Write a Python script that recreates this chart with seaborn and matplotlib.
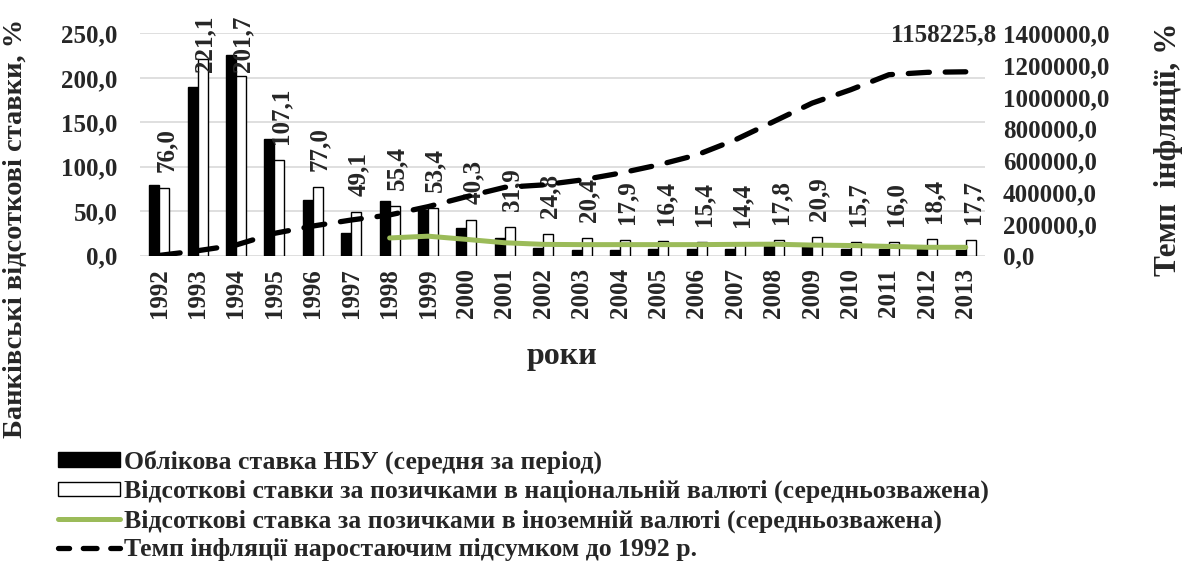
import numpy as np
import pandas as pd
import matplotlib
matplotlib.use("Agg")
import matplotlib.pyplot as plt
from matplotlib.patches import Patch
from matplotlib.lines import Line2D
from matplotlib.ticker import FuncFormatter, MultipleLocator
import seaborn as sns

# --- Data ---
years = ["1992", "1993", "1994", "1995", "1996", "1997", "1998", "1999", "2000", "2001", "2002",
         "2003", "2004", "2005", "2006", "2007", "2008", "2009", "2010", "2011", "2012", "2013"]
nbu_rate = [80.0, 190.0, 226.0, 131.0, 62.5, 26.0, 62.0, 51.0, 31.0, 19.5, 8.5,
            7.0, 7.0, 8.0, 8.0, 8.0, 11.0, 10.5, 7.75, 7.75, 7.5, 6.5]
loan_rate_uah = [76.0, 221.1, 201.7, 107.1, 77.0, 49.1, 55.4, 53.4, 40.3, 31.9, 24.8,
                 20.4, 17.9, 16.4, 15.4, 14.4, 17.8, 20.9, 15.7, 16.0, 18.4, 17.7]
loan_rate_fx = [np.nan] * 6 + [20.0, 22.0, 18.4, 14.6, 12.8,
                               12.5, 12.5, 12.5, 12.5, 12.8, 13.0, 12.0, 11.5, 10.5, 9.5, 9.5]
inflation_cum = [2000, 31500, 67500, 141000, 187000, 225000, 257000, 309000, 372000, 431000, 446000,
                 477000, 520000, 572000, 635000, 730000, 845000, 961000, 1045000, 1140000, 1155000,
                 1158225.8]

lbl_nbu = "Облікова ставка НБУ (середня за період)"
lbl_uah = "Відсоткові ставки за позичками в національній валюті (середньозважена)"
lbl_fx = "Відсоткові ставка за позичками в іноземній валюті (середньозважена)"
lbl_inf = "Темп інфляції наростаючим підсумком до 1992 р."

GREEN = "#9BBB59"
GRID = "#D9D9D9"
FS = 18


def comma(v, pos=None):
    return f"{v:.1f}".replace(".", ",")


sns.set_theme(style="white")
plt.rcParams["font.family"] = ["Liberation Serif", "DejaVu Serif"]
plt.rcParams["font.weight"] = "bold"

fig = plt.figure(figsize=(11.86, 5.76), dpi=100)
ax = fig.add_axes([0.118, 0.556, 0.7125, 0.386])

bars = pd.DataFrame({
    "year": years * 2,
    "value": nbu_rate + loan_rate_uah,
    "series": [lbl_nbu] * len(years) + [lbl_uah] * len(years),
})
sns.barplot(data=bars, x="year", y="value", hue="series", order=years,
            palette={lbl_nbu: "black", lbl_uah: "white"}, edgecolor="black",
            linewidth=1.0, width=0.52, gap=0, legend=False, ax=ax, zorder=2)

xpos = np.arange(len(years))
ax.plot(xpos, loan_rate_fx, color=GREEN, lw=3.6, solid_capstyle="round", zorder=4)

ax.set_xlim(-0.5, len(years) - 0.5)
ax.set_ylim(0, 250)
ax.yaxis.set_major_locator(MultipleLocator(50))
ax.yaxis.set_major_formatter(FuncFormatter(comma))
ax.grid(axis="y", color=GRID, lw=1.2, zorder=0)
ax.set_axisbelow(True)
for s in ax.spines.values():
    s.set_visible(False)
ax.tick_params(axis="y", labelsize=FS, pad=16, length=0)
ax.tick_params(axis="x", labelsize=FS, pad=9, length=0, labelrotation=90)
ax.set_xlabel("роки", fontsize=23, fontweight="bold", labelpad=17)
ax.set_ylabel("")

# data labels above national-currency bars (kept inside the top of the chart)
for patch, v in zip(ax.containers[1], loan_rate_uah):
    x = patch.get_x() + patch.get_width() / 2
    ax.text(x + 0.05, min(v + 18, 207), comma(v), rotation=90, ha="center", va="bottom",
            fontsize=FS, fontweight="bold", clip_on=False, zorder=5)

ax2 = ax.twinx()
ax2.plot(xpos, inflation_cum, color="black", lw=3.8, linestyle=(0, (4.0, 3.0)),
         dash_capstyle="round", zorder=3)
ax2.set_ylim(0, 1400000)
ax2.yaxis.set_major_locator(MultipleLocator(200000))
ax2.yaxis.set_major_formatter(FuncFormatter(comma))
ax2.tick_params(axis="y", labelsize=FS, pad=13, length=0)
ax2.grid(False)
for s in ax2.spines.values():
    s.set_visible(False)
ax2.annotate(comma(inflation_cum[-1]), (xpos[-1], inflation_cum[-1]), xytext=(-16, 18),
             textcoords="offset points", ha="center", va="bottom", fontsize=FS,
             fontweight="bold", annotation_clip=False)

fig.text(0.013, 0.604, "Банківські відсоткові ставки, %", rotation=90, ha="center",
         va="center", fontsize=20.5, fontweight="bold")
fig.text(0.985, 0.74, "Темп  інфляції, %", rotation=90, ha="center", va="center",
         fontsize=22.5, fontweight="bold")

handles = [
    Patch(facecolor="black", edgecolor="black"),
    Patch(facecolor="white", edgecolor="black"),
    Line2D([0], [0], color=GREEN, lw=3.6),
    Line2D([0], [0], color="black", lw=3.8, linestyle=(0.5, (2.6, 2.6)), dash_capstyle="round"),
]
fig.legend(handles, [lbl_nbu, lbl_uah, lbl_fx, lbl_inf], loc="upper left",
           bbox_to_anchor=(0.049, 0.218), frameon=False, fontsize=18.5,
           handlelength=2.4, handleheight=0.5, handletextpad=0.18, labelspacing=0.22,
           borderpad=0, borderaxespad=0)

fig.savefig("out.png", dpi=100)
